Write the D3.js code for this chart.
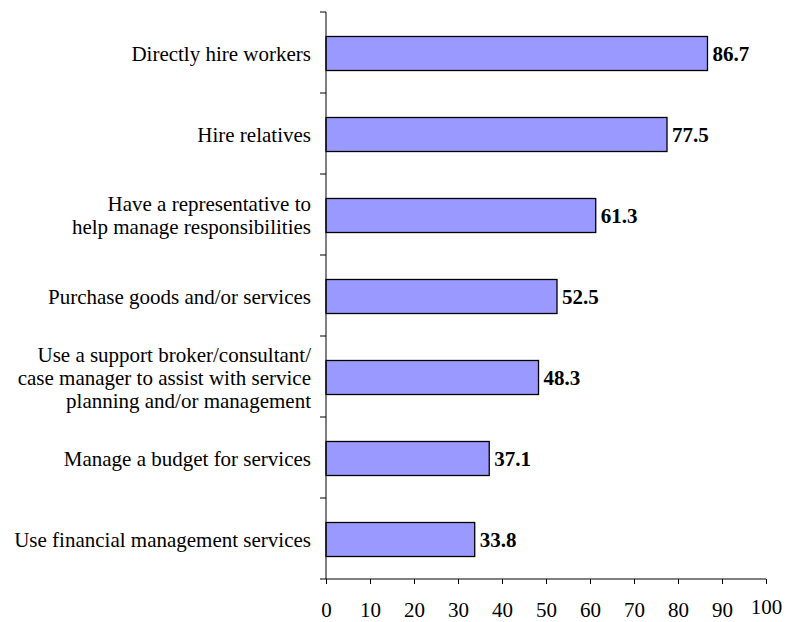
<!DOCTYPE html>
<html>
<head>
<meta charset="utf-8">
<script src="https://cdn.jsdelivr.net/npm/d3@7"></script>
<style>
  html, body { margin: 0; padding: 0; background: #fff; }
  svg { display: block; }
  text { font-family: "Liberation Serif", "DejaVu Serif", serif; fill: #000; }
</style>
</head>
<body>
<svg id="chart" width="795" height="622"></svg>
<script>
// Share of programs offering each participant-direction option (%)
const categories = [
  ["Directly hire workers"],
  ["Hire relatives"],
  ["Have a representative to", "help manage responsibilities"],
  ["Purchase goods and/or services"],
  ["Use a support broker/consultant/", "case manager to assist with service", "planning and/or management"],
  ["Manage a budget for services"],
  ["Use financial management services"]
];
const values = [86.7, 77.5, 61.3, 52.5, 48.3, 37.1, 33.8];
const xTicks = [0, 10, 20, 30, 40, 50, 60, 70, 80, 90, 100];

const svg = d3.select("#chart");
const margin = { left: 326, top: 12, right: 29, bottom: 43 };
const width = 795 - margin.left - margin.right;
const height = 622 - margin.top - margin.bottom;

const g = svg.append("g").attr("transform", `translate(${margin.left},${margin.top})`);

const x = d3.scaleLinear().domain([0, 100]).range([0, width]);
const y = d3.scaleBand().domain(d3.range(categories.length)).range([0, height])
  .paddingInner(0.58).paddingOuter(0.29);
const band = height / categories.length;

// Bars
g.selectAll("rect.bar").data(values).join("rect")
  .attr("class", "bar")
  .attr("x", 0)
  .attr("y", (d, i) => y(i) + 1)
  .attr("width", d => x(d))
  .attr("height", y.bandwidth())
  .attr("fill", "#9999ff")
  .attr("stroke", "#000")
  .attr("stroke-width", 1.3);

// Value labels
g.selectAll("text.val").data(values).join("text")
  .attr("class", "val")
  .attr("x", d => x(d) + 5)
  .attr("y", (d, i) => y(i) + 1 + y.bandwidth() / 2)
  .attr("dy", "0.35em")
  .attr("font-size", 21)
  .attr("font-weight", "bold")
  .text(d => d.toFixed(1));

// Vertical category axis with ticks between categories
const yAxis = g.append("g").attr("class", "y-axis");
yAxis.append("line")
  .attr("x1", 0).attr("x2", 0).attr("y1", 0).attr("y2", height)
  .attr("stroke", "#000").attr("stroke-width", 1);
yAxis.selectAll("line.tick").data(d3.range(categories.length + 1)).join("line")
  .attr("class", "tick")
  .attr("x1", -6).attr("x2", 0)
  .attr("y1", i => i * band).attr("y2", i => i * band)
  .attr("stroke", "#000").attr("stroke-width", 1);

// Category labels
const lineH = 23;
yAxis.selectAll("text.cat").data(categories).join("text")
  .attr("class", "cat")
  .attr("text-anchor", "end")
  .attr("font-size", 21)
  .each(function (lines, i) {
    const cy = y(i) + 1 + y.bandwidth() / 2;
    const t = d3.select(this);
    lines.forEach((ln, k) => {
      t.append("tspan")
        .attr("x", -15)
        .attr("y", cy + (k - (lines.length - 1) / 2) * lineH)
        .attr("dy", "0.35em")
        .text(ln);
    });
  });

// Horizontal value axis
const xAxis = g.append("g").attr("transform", `translate(0,${height})`)
  .call(d3.axisBottom(x).tickValues(xTicks).tickSize(5).tickPadding(18).tickFormat(d3.format("d")));
xAxis.select(".domain").attr("stroke", "#000").attr("d", `M0,0H${width}`);
xAxis.selectAll(".tick line").attr("stroke", "#000");
xAxis.selectAll(".tick text")
  .attr("font-size", 21)
  .attr("font-family", "Liberation Serif, serif")
  .attr("fill", "#000")
  .attr("dy", d => d === 100 ? "0.55em" : "0.71em");
</script>
</body>
</html>
